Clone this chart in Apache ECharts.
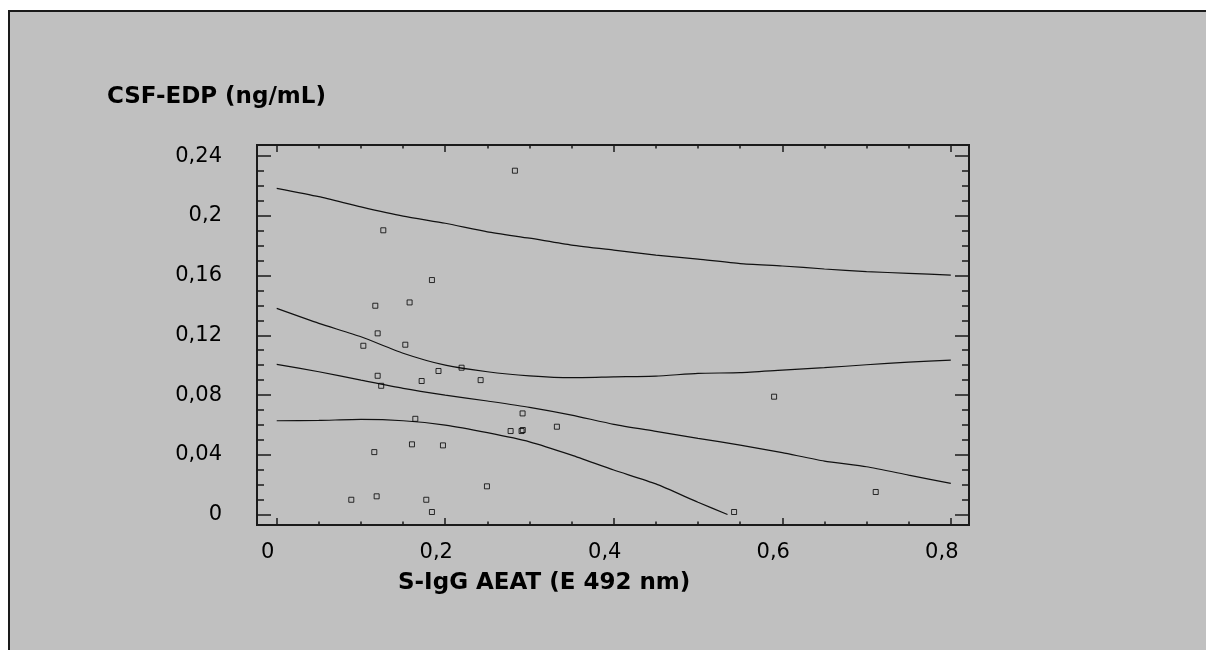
<!DOCTYPE html>
<html>
<head>
<meta charset="utf-8">
<script src="https://cdn.jsdelivr.net/npm/echarts@6/dist/echarts.min.js"></script>
<style>
html,body{margin:0;padding:0;background:#fff;width:1206px;height:650px;overflow:hidden;}
#bg{position:absolute;left:8px;top:10px;width:1198px;height:640px;background:#c0c0c0;border-top:2px solid #1a1a1a;border-left:2px solid #1a1a1a;box-sizing:border-box;}
#chart{position:absolute;left:0;top:0;width:1206px;height:650px;}
</style>
</head>
<body>
<div id="bg"></div>
<div id="chart"></div>
<script>
// Scatter data: S-IgG AEAT (x) vs CSF-EDP (y)
const pointX = [0.0885,0.1028,0.1158,0.1170,0.1186,0.1198,0.1198,0.1240,0.1265,0.1526,0.1577,0.1605,0.1645,0.1720,0.1775,0.1842,0.1842,0.1920,0.1973,0.2194,0.2420,0.2495,0.2776,0.2827,0.2906,0.2920,0.2918,0.3325,0.5428,0.5903,0.7109];
const pointY = [0.0099,0.1130,0.0418,0.1398,0.0122,0.1213,0.0929,0.0862,0.1903,0.1137,0.1420,0.0470,0.0641,0.0894,0.0099,0.1570,0.0017,0.0961,0.0463,0.0983,0.0900,0.0189,0.0559,0.2302,0.0559,0.0566,0.0677,0.0588,0.0017,0.0789,0.0151];

// Curves (regression line with confidence and prediction limits)
const curveX        = [0,0.05,0.1,0.15,0.2,0.25,0.3,0.35,0.4,0.45,0.5,0.55,0.6,0.65,0.7,0.75,0.8];
const predUpperY    = [0.2184,0.2128,0.2060,0.1998,0.1950,0.1893,0.1850,0.1804,0.1770,0.1737,0.1710,0.1680,0.1664,0.1644,0.1626,0.1615,0.1603];
const confUpperY    = [0.1380,0.1280,0.1190,0.1080,0.1000,0.0956,0.0929,0.0916,0.0922,0.0927,0.0945,0.0950,0.0967,0.0983,0.1003,0.1021,0.1034];
const regressionY   = [0.1005,0.0956,0.0900,0.0845,0.0800,0.0760,0.0718,0.0666,0.0604,0.0557,0.0510,0.0465,0.0414,0.0358,0.0320,0.0264,0.0209];
const confLowerX    = [0,0.05,0.1,0.15,0.2,0.25,0.3,0.35,0.4,0.45,0.5,0.535];
const confLowerY    = [0.0628,0.0630,0.0637,0.0628,0.0599,0.0548,0.0487,0.0398,0.0298,0.0205,0.0082,0.0000];

// Axis ticks and labels
const xMajorTicks = [0,0.2,0.4,0.6,0.8];
const xMinorTicks = [0.05,0.1,0.15,0.25,0.3,0.35,0.45,0.5,0.55,0.65,0.7,0.75];
const yMajorTicks = [0,0.04,0.08,0.12,0.16,0.2,0.24];
const yMinorTicks = [0.01,0.02,0.03,0.05,0.06,0.07,0.09,0.1,0.11,0.13,0.14,0.15,0.17,0.18,0.19,0.21,0.22,0.23];
const xTitle = 'S-IgG AEAT (E 492 nm)';
const yTitle = 'CSF-EDP (ng/mL)';

const X_MIN = -0.0234, X_MAX = 0.8216, Y_MIN = -0.0070, Y_MAX = 0.2474;
const FONT = 'DejaVu Sans';
const INK = '#1a1a1a';
const fmt = v => String(+v.toFixed(2)).replace('.', ',');

function zip(xs, ys){ return xs.map((x,i)=>[x, ys[i]]); }

function xAxis(pos, ticks, len, labels){
  return {
    type:'value', position:pos, min:X_MIN, max:X_MAX,
    axisLine:{show:true, onZero:false, lineStyle:{color:INK, width:2}},
    axisTick:{show:true, inside:true, length:len, customValues:ticks, lineStyle:{color:INK, width:1.5}},
    axisLabel:labels ? {show:true, customValues:ticks, formatter:fmt, fontFamily:FONT, fontSize:21, color:'#000', margin:17, padding:[0,18,0,0]} : {show:false},
    splitLine:{show:false}
  };
}
function yAxis(pos, ticks, len, labels){
  return {
    type:'value', position:pos, min:Y_MIN, max:Y_MAX,
    axisLine:{show:true, onZero:false, lineStyle:{color:INK, width:2}},
    axisTick:{show:true, inside:true, length:len, customValues:ticks, lineStyle:{color:INK, width:1.5}},
    axisLabel:labels ? {show:true, customValues:ticks, formatter:fmt, fontFamily:FONT, fontSize:21, color:'#000', margin:35} : {show:false},
    splitLine:{show:false}
  };
}

const lineSeries = (name, data) => ({
  name, type:'line', data, symbol:'none', smooth:0.2,
  lineStyle:{color:'#111', width:1.2}, z:3, silent:true
});

const chart = echarts.init(document.getElementById('chart'), null, {renderer:'canvas'});
chart.setOption({
  backgroundColor:'transparent',
  animation:false,
  grid:{left:257, top:145, right:237, bottom:125, containLabel:false},
  xAxis:[
    xAxis('bottom', xMajorTicks, 7, true),
    xAxis('bottom', xMinorTicks, 3.5, false),
    xAxis('top', xMajorTicks, 7, false),
    xAxis('top', xMinorTicks, 3.5, false)
  ],
  yAxis:[
    yAxis('left', yMajorTicks, 14, true),
    yAxis('left', yMinorTicks, 7, false),
    yAxis('right', yMajorTicks, 14, false),
    yAxis('right', yMinorTicks, 7, false)
  ],
  series:[
    lineSeries('Prediction upper', zip(curveX, predUpperY)),
    lineSeries('Confidence upper', zip(curveX, confUpperY)),
    lineSeries('Regression', zip(curveX, regressionY)),
    lineSeries('Confidence lower', zip(confLowerX, confLowerY)),
    {
      name:'Data', type:'scatter', data:zip(pointX, pointY),
      symbol:'rect', symbolSize:5,
      itemStyle:{color:'rgba(0,0,0,0)', borderColor:'#000', borderWidth:1}, z:4
    }
  ],
  graphic:[
    {type:'text', left:107, top:86, style:{text:yTitle, fontFamily:FONT, fontSize:23, fontWeight:'bold', fill:'#000'}},
    {type:'text', left:398, top:572, style:{text:xTitle, fontFamily:FONT, fontSize:23, fontWeight:'bold', fill:'#000'}}
  ]
});
</script>
</body>
</html>
